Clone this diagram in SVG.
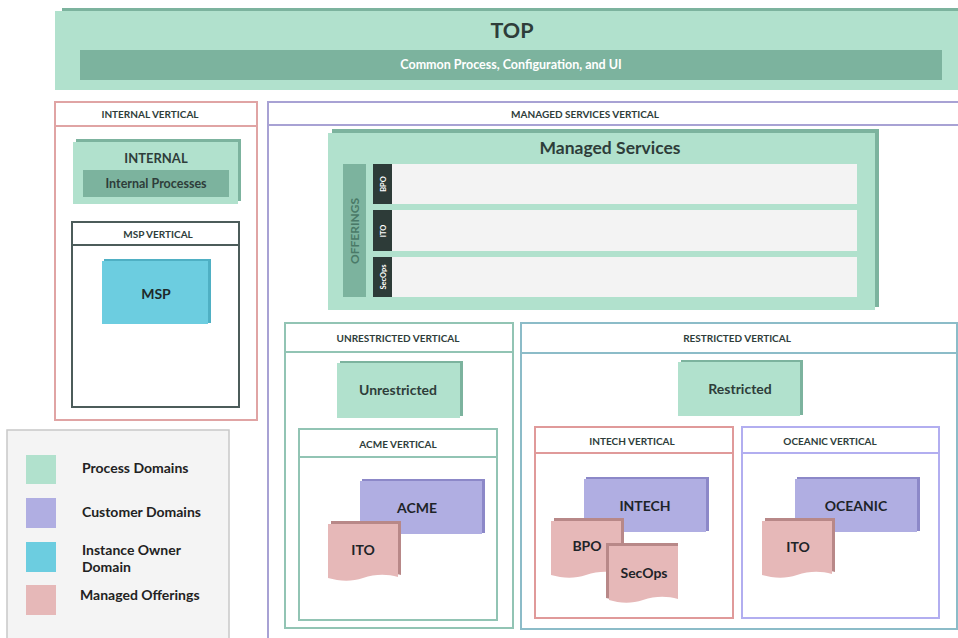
<svg xmlns="http://www.w3.org/2000/svg" width="958" height="638" viewBox="0 0 958 638">
<style>
text{font-family:Lato,"Liberation Sans",sans-serif;fill:#2e3d3a;text-anchor:middle;font-weight:bold}
.hdr{font-size:10px}
.lbl{font-size:14px}
.leg{font-size:14px;text-anchor:start;fill:#222}
.g{fill:#b1e1cd}.gd{fill:#7cb39e}
.p{fill:#b0aee2}.pd{fill:#8c88c8}
.r{fill:#e6b8b8}.rd{fill:#b88888}
.c{fill:#6ccde0}.cd{fill:#4fb0c4}
.row{fill:#f3f3f3}
.lab{fill:#2d3b38}
</style>
<rect width="958" height="638" fill="#ffffff"/>

<g id="top">
<rect x="62" y="8" width="896" height="80" class="gd"/>
<rect x="55" y="11" width="903" height="79" class="g"/>
<rect x="80" y="50" width="862" height="30" class="gd"/>
<text x="512" y="38" style="font-size:21.5px">TOP</text>
<text x="511" y="69" style="font-size:12.5px;fill:#ffffff">Common Process, Configuration, and UI</text>
</g>

<g id="internal-vertical">
<rect x="55" y="102" width="202" height="318" fill="#fff" stroke="#e0a4a4" stroke-width="2"/>
<line x1="55" y1="126" x2="257" y2="126" stroke="#e0a4a4" stroke-width="2"/>
<text x="150" y="118" class="hdr">INTERNAL VERTICAL</text>
</g>

<g id="internal">
<rect x="76" y="139" width="165" height="62" class="gd"/>
<rect x="73" y="142" width="165" height="62" class="g"/>
<rect x="83" y="170" width="146" height="27" class="gd"/>
<text x="156" y="163" class="lbl" style="font-size:13px">INTERNAL</text>
<text x="156" y="188" style="font-size:12.5px">Internal Processes</text>
</g>

<g id="msp-vertical">
<rect x="72" y="222" width="167" height="185" fill="#fff" stroke="#4c5c5a" stroke-width="2"/>
<line x1="72" y1="245" x2="239" y2="245" stroke="#4c5c5a" stroke-width="2"/>
<text x="158" y="238" class="hdr">MSP VERTICAL</text>
</g>

<g id="msp">
<rect x="104" y="259" width="107" height="64" class="cd"/>
<rect x="102" y="261" width="106" height="63" class="c"/>
<text x="156" y="299" class="lbl" style="fill:#1e2a2a">MSP</text>
</g>

<g id="legend">
<rect x="7" y="430" width="222" height="212" fill="#f4f4f4" stroke="#c8c8c8" stroke-width="1.5"/>
<rect x="26" y="455" width="30" height="29" class="g"/>
<rect x="26" y="498" width="30" height="30" class="p"/>
<rect x="26" y="542" width="30" height="30" class="c"/>
<rect x="26" y="585" width="30" height="30" class="r"/>
<text x="82" y="473" class="leg">Process Domains</text>
<text x="82" y="517" class="leg">Customer Domains</text>
<text x="82" y="555" class="leg">Instance Owner</text>
<text x="82" y="572" class="leg">Domain</text>
<text x="80" y="600" class="leg">Managed Offerings</text>
</g>

<g id="managed-services-vertical">
<rect x="268" y="102" width="692" height="540" fill="#fff" stroke="#a8a2d4" stroke-width="2"/>
<line x1="268" y1="125" x2="958" y2="125" stroke="#a8a2d4" stroke-width="2"/>
<text x="585" y="118" class="hdr">MANAGED SERVICES VERTICAL</text>
</g>

<g id="managed-services">
<rect x="332" y="129" width="547" height="178" class="gd"/>
<rect x="328" y="133" width="547" height="177" class="g"/>
<text x="610" y="154" style="font-size:17.5px">Managed Services</text>
<rect x="343" y="164" width="23" height="133" class="gd"/>
<text transform="translate(359,231) rotate(-90)" style="font-size:12px;fill:#4a7a68;font-weight:bold">OFFERINGS</text>
<rect x="373" y="164" width="19" height="40" class="lab"/>
<rect x="392" y="164" width="465" height="40" class="row"/>
<text transform="translate(386,184) rotate(-90)" style="font-size:7.5px;fill:#fff">BPO</text>
<rect x="373" y="210" width="19" height="41" class="lab"/>
<rect x="392" y="210" width="465" height="41" class="row"/>
<text transform="translate(386,231) rotate(-90)" style="font-size:7.5px;fill:#fff">ITO</text>
<rect x="373" y="257" width="19" height="40" class="lab"/>
<rect x="392" y="257" width="465" height="40" class="row"/>
<text transform="translate(386,277) rotate(-90)" style="font-size:7.5px;fill:#fff">SecOps</text>
</g>

<g id="unrestricted-vertical">
<rect x="285" y="323" width="228" height="305" fill="#fff" stroke="#92c4b4" stroke-width="2"/>
<line x1="285" y1="352" x2="513" y2="352" stroke="#92c4b4" stroke-width="2"/>
<text x="398" y="342" class="hdr">UNRESTRICTED VERTICAL</text>
</g>

<g id="unrestricted">
<rect x="340" y="361" width="123" height="55" class="gd"/>
<rect x="337" y="363" width="123" height="55" class="g"/>
<text x="398" y="395" class="lbl">Unrestricted</text>
</g>

<g id="acme-vertical">
<rect x="299" y="429" width="198" height="191" fill="#fff" stroke="#92c4b4" stroke-width="2"/>
<line x1="299" y1="457" x2="497" y2="457" stroke="#92c4b4" stroke-width="2"/>
<text x="398" y="448" class="hdr">ACME VERTICAL</text>
</g>

<g id="acme">
<rect x="362" y="479" width="123" height="54" class="pd"/>
<rect x="360" y="481" width="122" height="53" class="p"/>
<text x="417" y="513" class="lbl" style="fill:#1e2428">ACME</text>
</g>

<g id="acme-ito">
<path d="M331,521 H401 V575 C390,572 378,572 366,576 C354,580 342,579 331,576 Z" class="rd"/>
<path d="M328,524 H398 V577 C387,574 375,574 363,578 C351,582 339,581 328,578 Z" class="r"/>
<text x="363" y="555" class="lbl" style="fill:#1e2428">ITO</text>
</g>

<g id="restricted-vertical">
<rect x="521" y="323" width="436" height="306" fill="#fff" stroke="#8cbcc8" stroke-width="2"/>
<line x1="521" y1="353" x2="957" y2="353" stroke="#8cbcc8" stroke-width="2"/>
<text x="737" y="342" class="hdr">RESTRICTED VERTICAL</text>
</g>

<g id="restricted">
<rect x="681" y="360" width="122" height="55" class="gd"/>
<rect x="678" y="362" width="122" height="54" class="g"/>
<text x="740" y="394" class="lbl">Restricted</text>
</g>

<g id="intech-vertical">
<rect x="535" y="427" width="198" height="191" fill="#fff" stroke="#e09a9a" stroke-width="2"/>
<line x1="535" y1="453" x2="733" y2="453" stroke="#e09a9a" stroke-width="2"/>
<text x="632" y="445" class="hdr">INTECH VERTICAL</text>
</g>

<g id="oceanic-vertical">
<rect x="742" y="427" width="197" height="191" fill="#fff" stroke="#b2aef0" stroke-width="2"/>
<line x1="742" y1="453" x2="939" y2="453" stroke="#b2aef0" stroke-width="2"/>
<text x="830" y="445" class="hdr">OCEANIC VERTICAL</text>
</g>

<g id="intech">
<rect x="586" y="477" width="123" height="54" class="pd"/>
<rect x="584" y="479" width="122" height="53" class="p"/>
<text x="645" y="511" class="lbl" style="fill:#1e2428">INTECH</text>
</g>

<g id="intech-bpo">
<path d="M554,518 H624 V572 C613,569 601,569 589,573 C577,577 565,576 554,573 Z" class="rd"/>
<path d="M551,521 H621 V574 C610,571 598,571 586,575 C574,579 562,578 551,575 Z" class="r"/>
<text x="587" y="551" class="lbl" style="fill:#1e2428">BPO</text>
</g>

<g id="intech-secops">
<path d="M606,543 H678 V597 C667,594 655,594 643,598 C631,602 618,601 606,598 Z" class="rd"/>
<path d="M609,546 H678 V599 C667,596 655,596 643,600 C631,604 619,603 609,600 Z" class="r"/>
<text x="644" y="578" class="lbl" style="fill:#1e2428">SecOps</text>
</g>

<g id="oceanic">
<rect x="797" y="477" width="123" height="54" class="pd"/>
<rect x="795" y="479" width="122" height="53" class="p"/>
<text x="856" y="511" class="lbl" style="fill:#1e2428">OCEANIC</text>
</g>

<g id="oceanic-ito">
<path d="M765,518 H835 V572 C824,569 812,569 800,573 C788,577 776,576 765,573 Z" class="rd"/>
<path d="M762,521 H832 V574 C821,571 809,571 797,575 C785,579 773,578 762,575 Z" class="r"/>
<text x="798" y="552" class="lbl" style="fill:#1e2428">ITO</text>
</g>

<g id="connectors"></g>
</svg>
